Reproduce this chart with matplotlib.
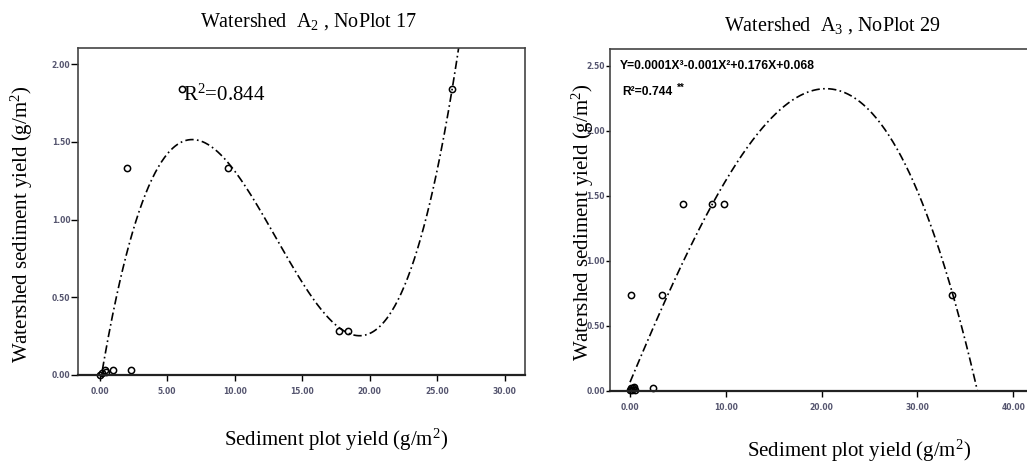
import numpy as np
import matplotlib.pyplot as plt

plt.rcParams['mathtext.fontset'] = 'custom'
plt.rcParams['mathtext.rm'] = 'Liberation Serif'
plt.rcParams['mathtext.it'] = 'Liberation Serif:italic'

# -------------------------------
# Data
# -------------------------------

# Watershed A2, NoPlot 17
a2_x = [0.0, 0.2, 0.4, 0.5, 1.0, 2.3, 2.0, 6.1, 9.5, 17.7, 18.4, 26.1]
a2_y = [0.0, 0.01, 0.03, 0.02, 0.03, 0.03, 1.33, 1.84, 1.33, 0.28, 0.28, 1.84]
a2_fit = [0.001326, -0.05193, 0.5252, -0.0730]   # cubic fit, highest power first
a2_r2 = "0.844"
a2_xticks = [0, 5, 10, 15, 20, 25, 30]
a2_yticks = [0, 0.5, 1.0, 1.5, 2.0]

# Watershed A3, NoPlot 29
a3_x = [0.0, 0.1, 0.2, 0.3, 0.4, 0.5, 2.4, 0.1, 3.3, 5.5, 8.6, 9.8, 33.6]
a3_y = [0.01, 0.02, 0.01, 0.02, 0.03, 0.01, 0.02, 0.74, 0.74, 1.44, 1.44, 1.44, 0.74]
a3_fit = [-0.0001071, -0.00102, 0.176, 0.068]
a3_eq = "Y=0.0001X³-0.001X²+0.176X+0.068"
a3_r2 = "0.744"
a3_xticks = [0, 10, 20, 30, 40]
a3_yticks = [0, 0.5, 1.0, 1.5, 2.0, 2.5]

serif = 'Liberation Serif'
tick_color = '#55556f'

fig = plt.figure(figsize=(10.27, 4.66), dpi=100)


def style_axes(ax, xticks, yticks, ylen):
    ax.set_xticks(xticks)
    ax.set_yticks(yticks)
    ax.set_xticklabels(["%.2f" % t for t in xticks])
    ax.set_yticklabels(["%.2f" % t for t in yticks])
    ax.tick_params(axis='x', direction='out', length=4.5, width=1, pad=4,
                   labelsize=5.5, labelcolor=tick_color)
    ax.tick_params(axis='y', direction='out', length=ylen, width=1, pad=0.5,
                   labelsize=5.5, labelcolor=tick_color)
    for lab in ax.get_xticklabels() + ax.get_yticklabels():
        lab.set_fontweight('bold')
    for side in ['top', 'right', 'left']:
        ax.spines[side].set_color('#444444')
        ax.spines[side].set_linewidth(1.2)
    ax.spines['bottom'].set_color('#222222')
    ax.spines['bottom'].set_linewidth(1.6)


# -------------------------------
# Left panel: A2
# -------------------------------
ax1 = fig.add_axes([78 / 1027, 1 - 375 / 466, 447 / 1027, 327 / 466])
xs = np.linspace(0, 31.5, 400)
ax1.plot(xs, np.polyval(a2_fit, xs), color='black', lw=1.2,
         linestyle=(0, (5, 2, 1, 2)))
ax1.plot(a2_x, a2_y, 'o', mfc='none', mec='black', ms=4.5, mew=1.1,
         clip_on=False)
ax1.set_xlim(-1.6, 31.5)
ax1.set_ylim(0, 2.103)
style_axes(ax1, a2_xticks, a2_yticks, 5)
ax1.text(6.15, 1.80, "R$^2$=" + a2_r2, fontsize=15, family=serif,
         ha='left', va='center')

fig.text(309 / 1027, 1 - 22 / 466, "Watershed  A$_2$ , NoPlot 17",
         fontsize=14.5, family=serif, ha='center', va='center')
fig.text(336 / 1027, 1 - 440 / 466, "Sediment plot yield (g/m$^2$)",
         fontsize=15, family=serif, ha='center', va='center')
fig.text(22 / 1027, 1 - 224 / 466, "Watershed sediment yield (g/m$^2$)",
         fontsize=15, family=serif, ha='center', va='center', rotation=90)

# -------------------------------
# Right panel: A3
# -------------------------------
ax2 = fig.add_axes([610 / 1027, 1 - 391 / 466, 430 / 1027, 342 / 466])
xs = np.linspace(0, 42.8, 400)
ax2.plot(xs, np.polyval(a3_fit, xs), color='black', lw=1.2,
         linestyle=(0, (5, 2, 1, 2)))
ax2.plot(a3_x, a3_y, 'o', mfc='none', mec='black', ms=4.5, mew=1.1,
         clip_on=False)
ax2.set_xlim(-2.09, 42.8)
ax2.set_ylim(0, 2.63)
style_axes(ax2, a3_xticks, a3_yticks, 3)
ax2.text(-1.04, 2.5, a3_eq, fontsize=8.7, family='Liberation Sans',
         fontweight='bold', ha='left', va='center')
ax2.text(-0.84, 2.30, "R²=" + a3_r2, fontsize=8.7, family='Liberation Sans',
         fontweight='bold', ha='left', va='center')
ax2.text(4.9, 2.335, "**", fontsize=7, family='Liberation Sans',
         fontweight='bold', ha='left', va='center')

fig.text(832 / 1027, 1 - 26 / 466, "Watershed  A$_3$ , NoPlot 29",
         fontsize=14.5, family=serif, ha='center', va='center')
fig.text(859 / 1027, 1 - 451 / 466, "Sediment plot yield (g/m$^2$)",
         fontsize=15, family=serif, ha='center', va='center')
fig.text(583 / 1027, 1 - 222 / 466, "Watershed sediment yield (g/m$^2$)",
         fontsize=15, family=serif, ha='center', va='center', rotation=90)

plt.savefig("out.png", dpi=100)
plt.close()
